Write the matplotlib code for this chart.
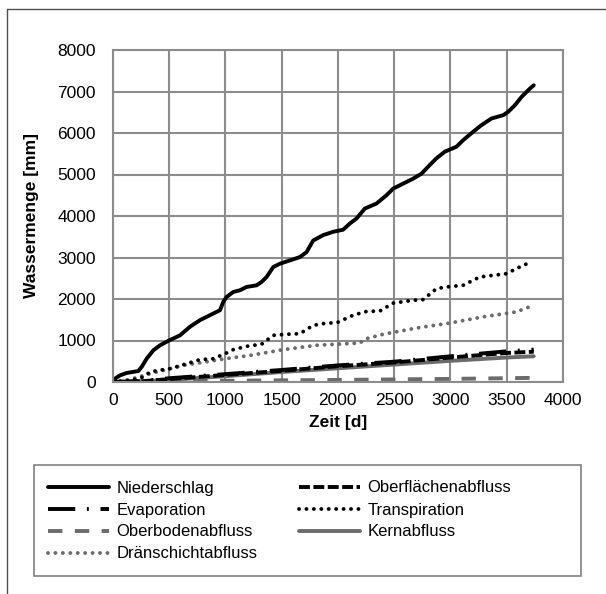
import matplotlib
matplotlib.use("Agg")
import matplotlib.pyplot as plt
from matplotlib.lines import Line2D
from matplotlib.patches import Rectangle

plt.rcParams['font.family'] = ['Liberation Sans', 'DejaVu Sans']

# --- cumulative water amounts [mm] over time [d] ---
nieder_t = [0, 30, 65, 124, 228, 257, 302, 361, 420, 500, 598, 686, 775, 864, 953, 982,
            1012, 1071, 1130, 1189, 1278, 1322, 1367, 1426, 1485, 1574, 1663, 1722, 1781,
            1870, 1959, 2047, 2107, 2166, 2240, 2343, 2432, 2491, 2580, 2669, 2743, 2817,
            2876, 2950, 3054, 3114, 3202, 3276, 3365, 3469, 3513, 3573, 3632, 3706, 3740]
nieder_v = [0, 100, 160, 217, 265, 362, 563, 764, 884, 1000, 1125, 1330, 1490, 1610, 1730,
            1930, 2050, 2170, 2210, 2290, 2330, 2410, 2530, 2770, 2850, 2930, 3010, 3130,
            3410, 3540, 3620, 3670, 3820, 3940, 4180, 4300, 4500, 4660, 4780, 4900, 5020,
            5230, 5390, 5550, 5670, 5830, 6030, 6190, 6350, 6430, 6510, 6670, 6870, 7070, 7150]

transp_t = [0, 150, 272, 331, 405, 509, 657, 775, 893, 997, 1071, 1189, 1322, 1426, 1544,
            1663, 1781, 1899, 1988, 2136, 2254, 2373, 2491, 2669, 2757, 2876, 2964, 3112,
            3260, 3379, 3497, 3615, 3704]
transp_v = [0, 30, 120, 240, 280, 320, 440, 540, 560, 680, 780, 860, 910, 1125, 1150, 1165,
            1365, 1420, 1425, 1610, 1700, 1710, 1900, 1970, 1985, 2250, 2290, 2330, 2530,
            2570, 2610, 2770, 2880]

drain_t = [0, 150, 331, 627, 864, 997, 1219, 1515, 1811, 2195, 2254, 2402, 2698, 2994,
           3290, 3586, 3740]
drain_v = [0, 60, 200, 400, 500, 560, 640, 780, 885, 940, 1045, 1150, 1300, 1420, 1570,
           1690, 1850]

evap_t = [0, 250, 500, 1000, 1500, 2000, 2500, 3000, 3500, 3740]
evap_v = [0, 20, 90, 190, 290, 400, 490, 620, 740, 780]

ofl_t = [0, 250, 500, 1000, 1500, 2000, 2500, 3000, 3500, 3740]
ofl_v = [0, 15, 70, 170, 270, 380, 470, 590, 700, 730]

kern_t = [0, 250, 500, 1000, 1500, 2000, 2500, 3000, 3500, 3740]
kern_v = [0, 10, 50, 140, 240, 330, 420, 510, 590, 620]

obb_t = [0, 300, 1000, 2000, 3000, 3740]
obb_v = [0, 15, 30, 50, 75, 100]

x_ticks = [0, 500, 1000, 1500, 2000, 2500, 3000, 3500, 4000]
y_ticks = [0, 1000, 2000, 3000, 4000, 5000, 6000, 7000, 8000]

W, H = 606, 594
fig = plt.figure(figsize=(W / 100, H / 100), dpi=100)

def fx(px):
    return px / W

def fy(py):
    return 1 - py / H

ax = fig.add_axes([fx(112.7), fy(382), (563 - 112.7) / W, (382 - 50) / H])

BLACK = '#000000'
GRAY = '#6b6b6b'
LW = 2.8

series = [
    ('Niederschlag', nieder_t, nieder_v, BLACK, '-', 'round'),
    ('Evaporation', evap_t, evap_v, BLACK, (0, (7, 3, 0.5, 3)), 'butt'),
    ('Oberbodenabfluss', obb_t, obb_v, GRAY, (0, (3.7, 3.2)), 'butt'),
    ('Dränschichtabfluss', drain_t, drain_v, GRAY, (0, (0.01, 1.9)), 'round'),
    ('Oberflächenabfluss', ofl_t, ofl_v, BLACK, (0, (2.8, 0.9)), 'butt'),
    ('Transpiration', transp_t, transp_v, BLACK, (0, (0.01, 1.9)), 'round'),
    ('Kernabfluss', kern_t, kern_v, GRAY, '-', 'round'),
]

draw_order = ['Oberbodenabfluss', 'Kernabfluss', 'Dränschichtabfluss', 'Oberflächenabfluss',
              'Evaporation', 'Transpiration', 'Niederschlag']
handles = {}
for name in draw_order:
    for (lab, t, v, c, ls, cap) in series:
        if lab == name:
            ln, = ax.plot(t, v, color=c, lw=LW, linestyle=ls, label=lab,
                          dash_capstyle=cap, solid_capstyle='round', solid_joinstyle='round')
            handles[lab] = ln

ax.set_xlim(0, 4000)
ax.set_ylim(0, 8000)
ax.set_xticks(x_ticks)
ax.set_yticks(y_ticks)
ax.grid(True, color='#8c8c8c', lw=1.5)
ax.set_axisbelow(True)
for sp in ax.spines.values():
    sp.set_color('#8c8c8c')
    sp.set_linewidth(1.5)
ax.tick_params(length=0, labelsize=12.5, colors='#000000')
ax.tick_params(axis='y', pad=12)
ax.tick_params(axis='x', pad=8)

fig.text(fx(32), fy(216), 'Wassermenge [mm]', rotation=90, ha='center', va='center',
         fontsize=12.5, fontweight='bold')
fig.text(fx(338), fy(423), 'Zeit [d]', ha='center', va='center',
         fontsize=12.5, fontweight='bold')

# legend, row-wise order
order = ['Niederschlag', 'Evaporation', 'Oberbodenabfluss', 'Dränschichtabfluss',
         'Oberflächenabfluss', 'Transpiration', 'Kernabfluss']
leg = fig.legend([handles[k] for k in order], order, ncol=2, loc='upper left',
                 bbox_to_anchor=(fx(48), fy(480.5)), bbox_transform=fig.transFigure,
                 frameon=False, fontsize=12, handlelength=3.65, handletextpad=0.45,
                 columnspacing=2.5, labelspacing=0.42, borderpad=0, borderaxespad=0)

# legend frame
fig.patches.append(Rectangle((fx(34), fy(576)), fx(581) - fx(34), fy(465) - fy(576),
                             transform=fig.transFigure, fill=False, edgecolor='#808080',
                             lw=1.2))
# outer chart border (top and left edges)
fig.lines.append(Line2D([fx(7), fx(7), 1.0], [0.0, fy(9), fy(9)],
                        transform=fig.transFigure, color='#505050', lw=1.0))

fig.savefig('out.png', dpi=100)
